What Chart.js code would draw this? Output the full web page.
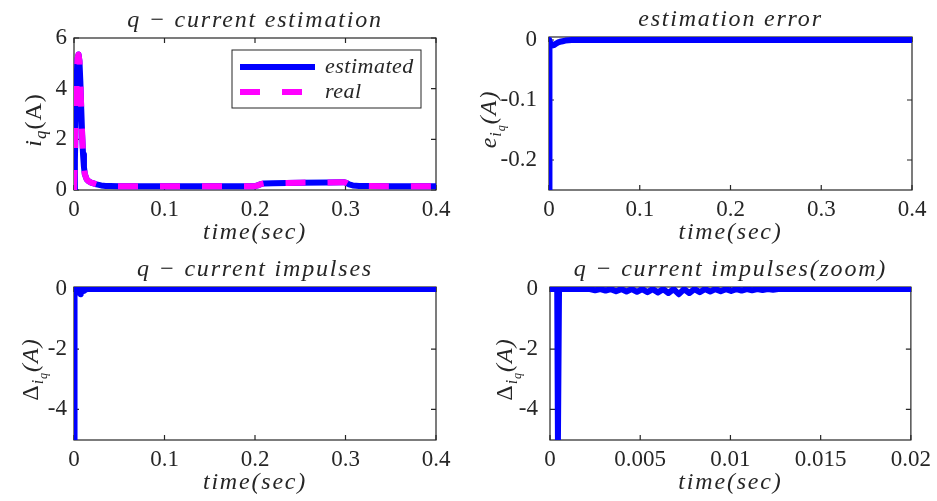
<!DOCTYPE html>
<html>
<head>
<meta charset="utf-8">
<script src="https://cdn.jsdelivr.net/npm/chart.js@4.4.1/dist/chart.umd.min.js"></script>
<style>
  html, body { margin: 0; padding: 0; background: #fff; }
  #wrap { position: relative; width: 937px; height: 501px; }
  #wrap canvas { position: absolute; left: 0; top: 0; }
</style>
</head>
<body>
<div id="wrap">
  <canvas id="plot-estimation" width="937" height="501"></canvas>
  <canvas id="plot-error" width="937" height="501"></canvas>
  <canvas id="plot-impulses" width="937" height="501"></canvas>
  <canvas id="plot-zoom" width="937" height="501"></canvas>
</div>
<script>
// q-current estimation (time in sec, current in A)
const timeIq = [0, 0.001, 0.002, 0.003, 0.004, 0.005, 0.006, 0.007, 0.008, 0.009, 0.010, 0.011, 0.012,
  0.014, 0.016, 0.018, 0.020, 0.025, 0.030, 0.035, 0.040, 0.050, 0.100, 0.150, 0.200, 0.203, 0.206,
  0.210, 0.220, 0.250, 0.280, 0.298, 0.301, 0.304, 0.308, 0.315, 0.325, 0.350, 0.400];
const iqEstimated = [0, 1.2, 3.0, 4.5, 5.2, 5.35, 5.1, 4.3, 3.2, 2.2, 1.4, 0.9, 0.62,
  0.42, 0.35, 0.31, 0.28, 0.22, 0.18, 0.16, 0.155, 0.15, 0.15, 0.15, 0.15, 0.18, 0.23,
  0.26, 0.27, 0.29, 0.30, 0.31, 0.28, 0.22, 0.18, 0.16, 0.155, 0.15, 0.15];
const iqReal = [0, 1.2, 3.0, 4.5, 5.2, 5.35, 5.1, 4.3, 3.2, 2.2, 1.4, 0.9, 0.62,
  0.42, 0.35, 0.31, 0.28, 0.22, 0.18, 0.16, 0.155, 0.15, 0.15, 0.15, 0.15, 0.18, 0.23,
  0.26, 0.27, 0.29, 0.30, 0.31, 0.28, 0.22, 0.18, 0.16, 0.155, 0.15, 0.15];

// estimation error
const timeErr = [0, 0.0002, 0.0005, 0.0008, 0.0012, 0.002, 0.004, 0.006, 0.008, 0.010, 0.012,
  0.015, 0.018, 0.025, 0.1, 0.2, 0.3, 0.4];
const errIq = [0, -0.25, -0.12, 0, -0.006, -0.01, -0.009, -0.008, -0.006, -0.004, -0.003,
  -0.002, -0.001, 0, 0, 0, 0, 0];

// q-current impulses
const timeImp = [0, 0.0004, 0.00044, 0.0005, 0.0010, 0.0020,
  0.00221, 0.0025, 0.00279, 0.00308, 0.00337, 0.00366, 0.00395, 0.00424, 0.00453, 0.00482,
  0.00511, 0.0054, 0.00569, 0.00598, 0.00627, 0.00656, 0.00685, 0.00714, 0.00743, 0.00772,
  0.00801, 0.0083, 0.00859, 0.00888, 0.00917, 0.00946, 0.00975, 0.01004, 0.01033, 0.01062,
  0.01091, 0.0112, 0.01149, 0.01178, 0.01207, 0.01236, 0.01265,
  0.014, 0.02, 0.1, 0.2, 0.3, 0.4];
const impIq = [0, 0, -5, 0, 0, 0,
  0, -0.04, 0, -0.05, 0, -0.07, 0, -0.08, 0, -0.09,
  0, -0.1, 0, -0.11, 0, -0.13, 0, -0.17, 0, -0.13,
  0, -0.1, 0, -0.08, 0, -0.07, 0, -0.06, 0, -0.05,
  0, -0.04, 0, -0.03, 0, -0.02, 0,
  0, 0, 0, 0, 0, 0];

// ticks
const xTicksFull = [0, 0.1, 0.2, 0.3, 0.4];
const xLabelsFull = ["0", "0.1", "0.2", "0.3", "0.4"];
const xTicksZoom = [0, 0.005, 0.01, 0.015, 0.02];
const xLabelsZoom = ["0", "0.005", "0.01", "0.015", "0.02"];
const yTicksIq = [0, 2, 4, 6];
const yLabelsIq = ["0", "2", "4", "6"];
const yTicksErr = [-0.2, -0.1, 0];
const yLabelsErr = ["-0.2", "-0.1", "0"];
const yTicksImp = [-4, -2, 0];
const yLabelsImp = ["-4", "-2", "0"];

const INK = "#262626";
const BLUE = "#0000ff";
const MAGENTA = "#ff00ff";
const W = 937, H = 501;
const SERIF = "'Liberation Serif', 'Times New Roman', serif";

function points(xs, ys) {
  return xs.map((x, i) => ({ x: x, y: ys[i] }));
}

function drawRich(ctx, segs, x, y, rotate) {
  ctx.save();
  ctx.translate(x, y);
  if (rotate) ctx.rotate(-Math.PI / 2);
  ctx.fillStyle = INK;
  ctx.textBaseline = "alphabetic";
  ctx.textAlign = "left";
  ctx.letterSpacing = "1px";
  let total = 0;
  segs.forEach(s => {
    ctx.font = (s.it ? "italic " : "") + s.size + "px " + SERIF;
    total += ctx.measureText(s.t).width;
  });
  let pos = -total / 2;
  segs.forEach(s => {
    ctx.font = (s.it ? "italic " : "") + s.size + "px " + SERIF;
    ctx.fillText(s.t, pos, s.dy || 0);
    pos += ctx.measureText(s.t).width;
  });
  ctx.restore();
}

const decor = {
  id: "decor",
  beforeDatasetsDraw(chart) {
    const o = chart.options.plugins.decor;
    const { ctx, chartArea: a } = chart;
    const xs = chart.scales.x, ys = chart.scales.y;
    ctx.save();
    ctx.strokeStyle = INK;
    ctx.lineWidth = 1.2;
    ctx.strokeRect(a.left, a.top, a.right - a.left, a.bottom - a.top);
    ctx.beginPath();
    o.xTicks.forEach(v => {
      const px = xs.getPixelForValue(v);
      ctx.moveTo(px, a.bottom); ctx.lineTo(px, a.bottom - 5);
      ctx.moveTo(px, a.top); ctx.lineTo(px, a.top + 5);
    });
    o.yTicks.forEach(v => {
      const py = ys.getPixelForValue(v);
      ctx.moveTo(a.left, py); ctx.lineTo(a.left + 5, py);
      ctx.moveTo(a.right, py); ctx.lineTo(a.right - 5, py);
    });
    ctx.stroke();
    ctx.restore();
  },
  afterDraw(chart) {
    const o = chart.options.plugins.decor;
    const { ctx, chartArea: a } = chart;
    const cx = (a.left + a.right) / 2;
    ctx.save();
    ctx.fillStyle = INK;
    ctx.textAlign = "center";
    ctx.textBaseline = "alphabetic";
    ctx.letterSpacing = "1.8px";
    ctx.font = "italic 24px " + SERIF;
    ctx.fillText(o.title, cx, a.top - 11);
    ctx.fillText("time(sec)", cx, a.bottom + 49);
    ctx.letterSpacing = "0px";
    ctx.restore();
    drawRich(ctx, o.yLabel, o.yLabelX, (a.top + a.bottom) / 2 + 6, true);

    if (o.legend) {
      const L = o.legend;
      ctx.save();
      ctx.fillStyle = "#fff";
      ctx.fillRect(L.x, L.y, L.w, L.h);
      ctx.strokeStyle = INK;
      ctx.lineWidth = 1;
      ctx.strokeRect(L.x, L.y, L.w, L.h);
      chart.data.datasets.forEach((ds, i) => {
        const y = L.y + 17 + i * 25;
        ctx.beginPath();
        ctx.strokeStyle = ds.borderColor;
        ctx.lineWidth = ds.borderWidth;
        ctx.setLineDash(ds.borderDash || []);
        ctx.moveTo(L.x + 8, y);
        ctx.lineTo(L.x + 83, y);
        ctx.stroke();
        ctx.setLineDash([]);
        ctx.fillStyle = INK;
        ctx.font = "italic 22px " + SERIF;
        ctx.letterSpacing = "0.5px";
        ctx.textBaseline = "middle";
        ctx.textAlign = "left";
        ctx.fillText(ds.label, L.x + 93, y);
      });
      ctx.restore();
    }
  }
};

function makePlot(id, cfg) {
  const area = cfg.area;
  const tickFont = { family: SERIF, size: 23 };
  return new Chart(document.getElementById(id), {
    type: "line",
    data: { datasets: cfg.datasets },
    options: {
      responsive: false,
      animation: false,
      events: [],
      layout: { padding: { left: 0, top: area.t, right: W - area.r, bottom: 0 } },
      elements: { point: { radius: 0 }, line: { tension: 0 } },
      plugins: {
        legend: { display: false },
        tooltip: { enabled: false },
        decor: {
          title: cfg.title,
          yLabel: cfg.yLabel,
          yLabelX: cfg.yLabelX,
          xTicks: cfg.xTicks,
          yTicks: cfg.yTicks,
          legend: cfg.legend
        }
      },
      scales: {
        x: {
          type: "linear",
          min: cfg.xMin, max: cfg.xMax,
          grid: { display: false, drawTicks: false },
          border: { display: false },
          afterFit: s => { s.height = H - area.b; },
          afterBuildTicks: s => { s.ticks = cfg.xTicks.map(v => ({ value: v })); },
          ticks: {
            color: INK, font: tickFont, padding: 6, maxRotation: 0, autoSkip: false,
            callback: v => cfg.xLabels[cfg.xTicks.indexOf(v)]
          }
        },
        y: {
          type: "linear",
          min: cfg.yMin, max: cfg.yMax,
          grid: { display: false, drawTicks: false },
          border: { display: false },
          afterFit: s => { s.width = area.l; },
          afterBuildTicks: s => { s.ticks = cfg.yTicks.map(v => ({ value: v })); },
          ticks: {
            color: INK, font: tickFont, padding: cfg.yPad, autoSkip: false,
            callback: v => cfg.yLabels[cfg.yTicks.indexOf(v)]
          }
        }
      }
    },
    plugins: [decor]
  });
}

const solid = (label, xs, ys) => ({
  label: label, data: points(xs, ys), borderColor: BLUE, borderWidth: 6,
  borderJoinStyle: "round", borderCapStyle: "round", fill: false, order: 1
});

const subLabel = head => [
  head,
  { t: "i", it: true, size: 16, dy: 5 },
  { t: "q", it: true, size: 12, dy: 9 },
  { t: "(A)", it: true, size: 24 }
];

function buildAll() {
  makePlot("plot-estimation", {
    area: { l: 74, t: 38, r: 436, b: 190 },
    title: "q \u2212 current estimation",
    yLabel: [{ t: "i", it: true, size: 24 }, { t: "q", it: true, size: 17, dy: 5 }, { t: "(A)", it: false, size: 24 }],
    yLabelX: 41,
    xMin: 0, xMax: 0.4, xTicks: xTicksFull, xLabels: xLabelsFull,
    yMin: 0, yMax: 6, yTicks: yTicksIq, yLabels: yLabelsIq, yPad: 7,
    legend: { x: 232, y: 50, w: 189, h: 58 },
    datasets: [
      solid("estimated", timeIq, iqEstimated),
      {
        label: "real", data: points(timeIq, iqReal), borderColor: MAGENTA, borderWidth: 6,
        borderDash: [20, 22], borderCapStyle: "butt", borderJoinStyle: "round", fill: false, order: 0
      }
    ]
  });

  makePlot("plot-error", {
    area: { l: 549, t: 37, r: 912, b: 190 },
    title: "estimation error",
    yLabel: subLabel({ t: "e", it: true, size: 24 }),
    yLabelX: 496,
    xMin: 0, xMax: 0.4, xTicks: xTicksFull, xLabels: xLabelsFull,
    yMin: -0.25, yMax: 0.005, yTicks: yTicksErr, yLabels: yLabelsErr, yPad: 12,
    datasets: [solid("error", timeErr, errIq)]
  });

  makePlot("plot-impulses", {
    area: { l: 74, t: 287, r: 436, b: 440 },
    title: "q \u2212 current impulses",
    yLabel: subLabel({ t: "\u0394", it: false, size: 24 }),
    yLabelX: 38,
    xMin: 0, xMax: 0.4, xTicks: xTicksFull, xLabels: xLabelsFull,
    yMin: -5.02, yMax: 0.07, yTicks: yTicksImp, yLabels: yLabelsImp, yPad: 7,
    datasets: [solid("impulses", timeImp, impIq)]
  });

  makePlot("plot-zoom", {
    area: { l: 550, t: 287, r: 912, b: 440 },
    title: "q \u2212 current impulses(zoom)",
    yLabel: subLabel({ t: "\u0394", it: false, size: 24 }),
    yLabelX: 512,
    xMin: 0, xMax: 0.02, xTicks: xTicksZoom, xLabels: xLabelsZoom,
    yMin: -5.02, yMax: 0.07, yTicks: yTicksImp, yLabels: yLabelsImp, yPad: 12,
    datasets: [solid("impulses", timeImp, impIq)]
  });
}

Promise.all([
  document.fonts.load("23px 'Liberation Serif'"),
  document.fonts.load("italic 24px 'Liberation Serif'")
]).then(buildAll, buildAll);
</script>
</body>
</html>
